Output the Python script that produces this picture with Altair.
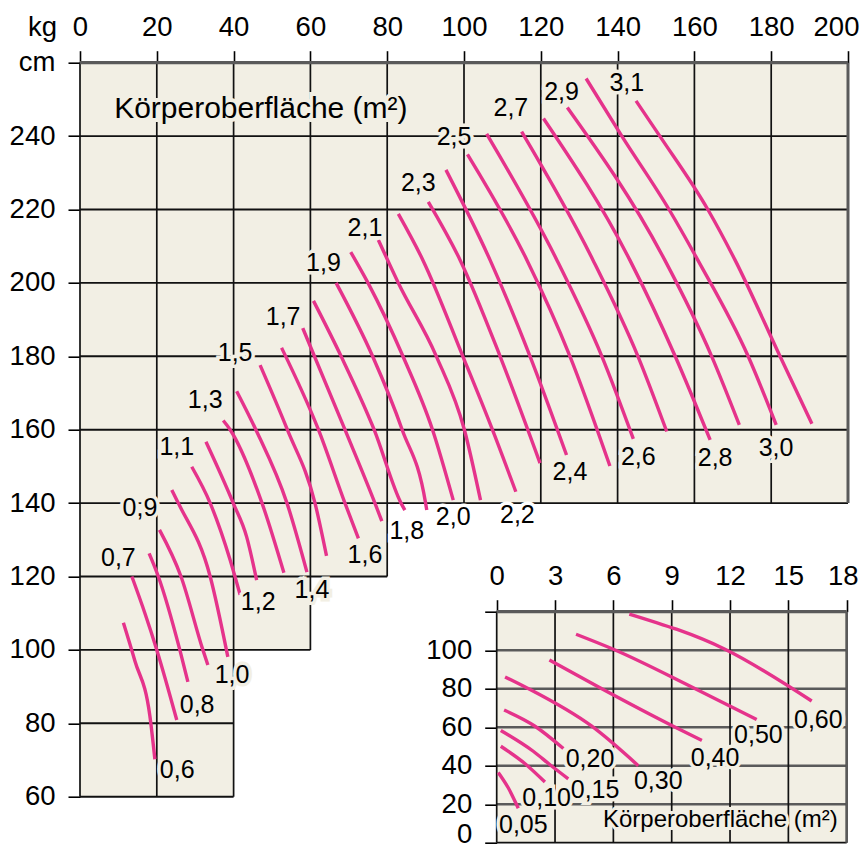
import altair as alt
import pandas as pd

FONT = "Liberation Sans, Arial, sans-serif"
BEIGE = "#f2efe4"
PINK = "#e5338b"
INK = "#111111"
GREY = "#5a5a5a"

W, H = 768, 734

# ---------------- main nomogram: weight (kg) x height (cm) ----------------
kg_ticks = [0, 20, 40, 60, 80, 100, 120, 140, 160, 180, 200]
cm_ticks = [60, 80, 100, 120, 140, 160, 180, 200, 220, 240, 260]

# staircase-shaped paper area
step_kg_start = [0, 40, 60, 80]
step_kg_end = [40, 60, 80, 200]
step_cm_bottom = [60, 100, 120, 140]

# grid lines (drawn only over the paper area)
vgrid_kg = [0, 20, 40, 60, 80, 100, 120, 140, 160, 180, 200]
vgrid_cm_bottom = [60, 60, 60, 100, 120, 140, 140, 140, 140, 140, 140]
hgrid_cm = [60, 80, 100, 120, 140, 160, 180, 200, 220, 240, 260]
hgrid_kg_right = [40, 40, 60, 80, 200, 200, 200, 200, 200, 200, 200]

# body-surface-area isolines (m²)
curve_labels = ["0,6", "0,7", "0,8", "0,9", "1,0", "1,1", "1,2", "1,3", "1,4",
                "1,5", "1,6", "1,7", "1,8", "1,9", "2,0", "2,1", "2,2", "2,3",
                "2,4", "2,5", "2,6", "2,7", "2,8", "2,9", "3,0", "3,1"]
curve_kg = [
    [11.3, 14.3, 18.2, 19.5],
    [13.5, 16.9, 20.0, 25.2],
    [18.0, 20.4, 26.0, 28.1],
    [20.7, 26.3, 32.0, 33.3],
    [23.9, 25.6, 33.9, 38.5],
    [29.1, 33.9, 39.1, 41.7],
    [32.8, 39.9, 43.4, 46.0],
    [37.3, 39.1, 47.4, 53.1],
    [40.8, 45.8, 53.9, 59.1],
    [46.9, 54.0, 61.2, 64.2],
    [52.5, 62.1, 69.0, 72.5],
    [58.0, 69.0, 76.8, 78.6],
    [60.8, 68.0, 76.6, 83.6, 84.6],
    [66.7, 76.2, 83.9, 90.0, 90.3],
    [70.5, 75.0, 84.1, 91.8, 97.2],
    [77.7, 82.9, 92.8, 100.1, 104.3],
    [82.9, 89.3, 99.7, 107.4, 113.5],
    [90.7, 99.0, 109.4, 119.8],
    [95.3, 106.8, 117.2, 126.7],
    [100.9, 116.4, 127.6, 138.0],
    [105.9, 124.2, 135.9, 144.1],
    [115.0, 133.6, 145.3, 152.8],
    [120.7, 143.2, 155.0, 164.1],
    [126.9, 152.3, 164.5, 171.7],
    [131.8, 141.1, 153.4, 160.9, 174.0, 181.3],
    [144.8, 151.0, 163.5, 170.6, 182.3, 190.6],
]
curve_cm = [
    [107.4, 97, 82, 70.2],
    [120.0, 110, 100, 80.9],
    [126.3, 120, 100, 91.3],
    [132.7, 120, 100, 95.9],
    [143.6, 140, 120, 98.1],
    [149.9, 140, 124.5, 115.0],
    [156.7, 140, 130.8, 119.0],
    [162.5, 160, 140, 121.0],
    [170.5, 160, 140, 121.2],
    [177.6, 160, 140, 125.6],
    [182.3, 160, 140, 130.4],
    [187.7, 160, 140, 135.1],
    [195.1, 180, 160, 140, 138.1],
    [200.0, 180, 160, 140, 138.1],
    [208.4, 200, 180, 160, 140.8],
    [211.7, 200, 180, 160, 140.8],
    [218.8, 206.2, 180, 160, 143.1],
    [222.1, 206.2, 180, 150.9],
    [230.8, 206.2, 180, 153.1],
    [235.0, 206.2, 180, 150.1],
    [240.6, 206.2, 180, 157.5],
    [241.2, 206.2, 180, 159.5],
    [244.8, 206.2, 180, 157.2],
    [247.8, 206.2, 180, 161.3],
    [255.7, 240, 220, 206.2, 180, 161.3],
    [249.6, 240, 220, 206.2, 180, 161.6],
]
label_kg = [25.3, 10.0, 30.5, 15.6, 39.6, 25.2, 46.4, 32.6, 60.4, 40.4, 74.2, 52.9, 85.1,
            63.4, 97.2, 74.2, 113.9, 88.1, 127.6, 97.4, 145.4, 112.2, 165.4, 125.4, 181.25, 142.4]
label_cm = [67.3, 125.0, 85.0, 138.6, 93.2, 155.4, 113.1, 168.1, 116.3, 181.0, 125.9, 190.8, 132.4,
            205.3, 136.3, 215.0, 136.8, 227.1, 148.6, 239.8, 152.6, 247.6, 152.2, 252.1, 154.9, 254.4]

title_text = "Körperoberfläche (m²)"
title_kg, title_cm = 47.1, 247.3

# ---------------- inset: small children ----------------
ins_kg_ticks = [0, 3, 6, 9, 12, 15, 18]
ins_cm_ticks = [0, 20, 40, 60, 80, 100, 120]
ins_labels = ["0,05", "0,10", "0,15", "0,20", "0,30", "0,40", "0,50", "0,60"]
ins_kg = [
    [0.08, 0.60, 1.11],
    [0.21, 1.46, 2.48],
    [0.21, 1.88, 2.74, 3.68],
    [0.38, 1.97, 3.43],
    [0.43, 1.54, 4.89, 7.28],
    [2.71, 5.31, 9.08, 10.55],
    [4.08, 6.0, 10.11, 13.37],
    [6.82, 11.74, 16.2],
]
ins_cm = [
    [36.5, 28.4, 17.9],
    [50.1, 41.0, 31.5],
    [58.3, 47.5, 40.5, 33.2],
    [68.9, 60.5, 48.9],
    [86.1, 80.5, 60.5, 40.0],
    [94.9, 80.5, 60.5, 53.1],
    [108.3, 100.5, 80.5, 64.0],
    [118.8, 100.5, 73.6],
]
ins_label_kg = [1.37, 2.57, 5.06, 4.80, 8.31, 11.23, 13.46, 16.54]
ins_label_cm = [9.2, 23.2, 27.5, 43.5, 31.8, 44.0, 56.2, 64.0]
ins_title_kg, ins_title_cm = 11.5, 11.8


# ---------------- helpers ----------------
def curves_frame(labels, kgs, cms):
    rows = []
    for lab, ks, cs in zip(labels, kgs, cms):
        for i, (k, c) in enumerate(zip(ks, cs)):
            rows.append({"label": lab, "kg": k, "cm": c, "idx": i})
    return pd.DataFrame(rows)


def paper_colour(kg, cm):
    for s, e, b in zip(step_kg_start, step_kg_end, step_cm_bottom):
        if s <= kg <= e and b <= cm <= 260:
            return BEIGE
    return "white"


main_x = alt.Scale(domain=[0, 200], range=[0, W], nice=False, zero=False)
main_y = alt.Scale(domain=[60, 260], range=[H, 0], nice=False, zero=False)
ins_x = alt.Scale(domain=[0, 18], range=[416.7, 766.7], nice=False, zero=False)
ins_y = alt.Scale(domain=[0, 120], range=[780, 549], nice=False, zero=False)

AX_FS = 27.5
axis_common = dict(domain=False, grid=False, ticks=True, labels=True,
                   tickColor="black", tickWidth=1.6, tickSize=12,
                   labelFont=FONT, labelFontSize=AX_FS, labelColor="black",
                   labelFlush=False, labelOverlap=False)

top_axis = alt.Axis(orient="top", values=kg_ticks, labelPadding=9, title="kg",
                    labelOffset={"condition": {"test": "datum.value == 200", "value": -12},
                                 "value": 0},
                    titleFont=FONT, titleFontSize=AX_FS, titleFontWeight="normal",
                    titleColor="black", titleAngle=0, titleX=-38, titleY=-21,
                    titleBaseline="bottom", titleAlign="center", **axis_common)
left_axis = alt.Axis(orient="left", values=cm_ticks, labelPadding=13, title=None,
                     labelExpr="datum.value == 260 ? 'cm' : datum.label", **axis_common)
ins_top_axis = alt.Axis(orient="top", values=ins_kg_ticks, labelPadding=9, title=None,
                        labelOffset={"condition": {"test": "datum.value == 18", "value": -4},
                                     "value": 0},
                        offset=-549, **axis_common)
ins_left_axis = alt.Axis(orient="left", values=ins_cm_ticks, labelPadding=13, title=None,
                         offset=-416.7,
                         labelOffset={"condition": {"test": "datum.value == 0", "value": -8},
                                      "value": 0},
                         labelExpr="datum.value == 120 ? '' : datum.label", **axis_common)


def mx(field="kg", axis=None):
    return alt.X(f"{field}:Q", scale=main_x, axis=axis)


def my(field="cm", axis=None):
    return alt.Y(f"{field}:Q", scale=main_y, axis=axis)


def ix(field="kg", axis=None):
    return alt.X(f"{field}:Q", scale=ins_x, axis=axis)


def iy(field="cm", axis=None):
    return alt.Y(f"{field}:Q", scale=ins_y, axis=axis)


LAB_FS = 25

# ---------------- main layers ----------------
steps_df = pd.DataFrame({"kg": step_kg_start, "kg2": step_kg_end,
                         "cm": step_cm_bottom, "cm2": [260] * len(step_kg_start)})
bg = alt.Chart(steps_df).mark_rect(color=BEIGE, strokeWidth=0).encode(
    x=mx(axis=top_axis), x2="kg2:Q", y=my(axis=left_axis), y2="cm2:Q")

vg_df = pd.DataFrame({"kg": vgrid_kg, "cm": vgrid_cm_bottom, "cm2": [260] * len(vgrid_kg)})
vgrid = alt.Chart(vg_df).mark_rule(color=INK, strokeWidth=1.7).encode(
    x=mx(), y=my(), y2="cm2:Q")

hg_df = pd.DataFrame({"cm": hgrid_cm, "kg": [0] * len(hgrid_cm), "kg2": hgrid_kg_right})
hgrid = alt.Chart(hg_df).mark_rule(color=INK, strokeWidth=1.9).encode(
    y=my(), x=mx(), x2="kg2:Q")

top_df = pd.DataFrame({"cm": [260], "kg": [0], "kg2": [200]})
top_border = alt.Chart(top_df).mark_rule(color=GREY, strokeWidth=3.2).encode(
    y=my(), x=mx(), x2="kg2:Q")
right_df = pd.DataFrame({"kg": [200], "cm": [140], "cm2": [260]})
right_border = alt.Chart(right_df).mark_rule(color=GREY, strokeWidth=3).encode(
    x=mx(), y=my(), y2="cm2:Q")

curves = alt.Chart(curves_frame(curve_labels, curve_kg, curve_cm)).mark_line(
    color=PINK, strokeWidth=3.4, interpolate="monotone").encode(
    x=mx(), y=my(), detail="label:N", order="idx:Q")

lab_df = pd.DataFrame({"label": curve_labels, "kg": label_kg, "cm": label_cm})
lab_df["halo"] = [paper_colour(k - 3, c) for k, c in zip(label_kg, label_cm)]
lab_halo = alt.Chart(lab_df).mark_text(font=FONT, fontSize=LAB_FS, baseline="middle",
                                        align="center", strokeWidth=7).encode(
    x=mx(), y=my(), text="label:N",
    fill=alt.Fill("halo:N", scale=None), stroke=alt.Stroke("halo:N", scale=None))
lab_text = alt.Chart(lab_df).mark_text(font=FONT, fontSize=LAB_FS, baseline="middle",
                                        align="center", color="black").encode(
    x=mx(), y=my(), text="label:N")

ttl_df = pd.DataFrame({"t": [title_text], "kg": [title_kg], "cm": [title_cm]})
ttl_halo = alt.Chart(ttl_df).mark_text(font=FONT, fontSize=30, baseline="middle",
                                        align="center", color=BEIGE, stroke=BEIGE,
                                        strokeWidth=8).encode(x=mx(), y=my(), text="t:N")
ttl_text = alt.Chart(ttl_df).mark_text(font=FONT, fontSize=30, baseline="middle",
                                        align="center", color="black").encode(
    x=mx(), y=my(), text="t:N")

# ---------------- inset layers ----------------
ibg_df = pd.DataFrame({"kg": [0], "kg2": [18], "cm": [0], "cm2": [120]})
ibg = alt.Chart(ibg_df).mark_rect(color=BEIGE, strokeWidth=0).encode(
    x=ix(axis=ins_top_axis), x2="kg2:Q", y=iy(axis=ins_left_axis), y2="cm2:Q")

ivg_df = pd.DataFrame({"kg": ins_kg_ticks, "cm": [0] * 7, "cm2": [120] * 7})
ivgrid = alt.Chart(ivg_df).mark_rule(color=INK, strokeWidth=1.7).encode(
    x=ix(), y=iy(), y2="cm2:Q")
ihg_df = pd.DataFrame({"cm": [20, 40, 60, 80, 100], "kg": [0] * 5, "kg2": [18] * 5})
ihgrid = alt.Chart(ihg_df).mark_rule(color=GREY, strokeWidth=2.6).encode(
    y=iy(), x=ix(), x2="kg2:Q")
ibd_df = pd.DataFrame({"cm": [0, 120], "kg": [0, 0], "kg2": [18, 18],
                       "c": [INK, GREY], "w": [1.8, 3.2]})
ibord = alt.Chart(ibd_df).mark_rule().encode(
    y=iy(), x=ix(), x2="kg2:Q",
    color=alt.Color("c:N", scale=None), strokeWidth=alt.StrokeWidth("w:Q", scale=None))
irb_df = pd.DataFrame({"kg": [18], "cm": [0], "cm2": [120]})
iright = alt.Chart(irb_df).mark_rule(color=GREY, strokeWidth=2.6).encode(
    x=ix(), y=iy(), y2="cm2:Q")

icurves = alt.Chart(curves_frame(ins_labels, ins_kg, ins_cm)).mark_line(
    color=PINK, strokeWidth=3.4, interpolate="monotone").encode(
    x=ix(), y=iy(), detail="label:N", order="idx:Q")

ilab_df = pd.DataFrame({"label": ins_labels, "kg": ins_label_kg, "cm": ins_label_cm})
ilab_halo = alt.Chart(ilab_df).mark_text(font=FONT, fontSize=LAB_FS, baseline="middle",
                                          align="center", color=BEIGE, stroke=BEIGE,
                                          strokeWidth=7).encode(x=ix(), y=iy(), text="label:N")
ilab_text = alt.Chart(ilab_df).mark_text(font=FONT, fontSize=LAB_FS, baseline="middle",
                                          align="center", color="black").encode(
    x=ix(), y=iy(), text="label:N")

ittl_df = pd.DataFrame({"t": [title_text], "kg": [ins_title_kg], "cm": [ins_title_cm]})
ittl_halo = alt.Chart(ittl_df).mark_text(font=FONT, fontSize=24, baseline="middle",
                                          align="center", color=BEIGE, stroke=BEIGE,
                                          strokeWidth=6).encode(x=ix(), y=iy(), text="t:N")
ittl_text = alt.Chart(ittl_df).mark_text(font=FONT, fontSize=24, baseline="middle",
                                          align="center", color="black").encode(
    x=ix(), y=iy(), text="t:N")

chart = alt.layer(
    bg, vgrid, hgrid, top_border, right_border, curves,
    lab_halo, lab_text, ttl_halo, ttl_text,
    ibg, ihgrid, ivgrid, ibord, iright, icurves,
    ilab_halo, ilab_text, ittl_halo, ittl_text,
).resolve_scale(x="independent", y="independent").resolve_axis(
    x="independent", y="independent").properties(
    width=W, height=H,
    padding={"left": 72, "top": 54.7, "right": 12, "bottom": 51.3},
    autosize=alt.AutoSizeParams(type="none"),
    background="white").configure_view(stroke=None)

chart.save("out.html", embed_options={"renderer": "svg", "actions": False})
